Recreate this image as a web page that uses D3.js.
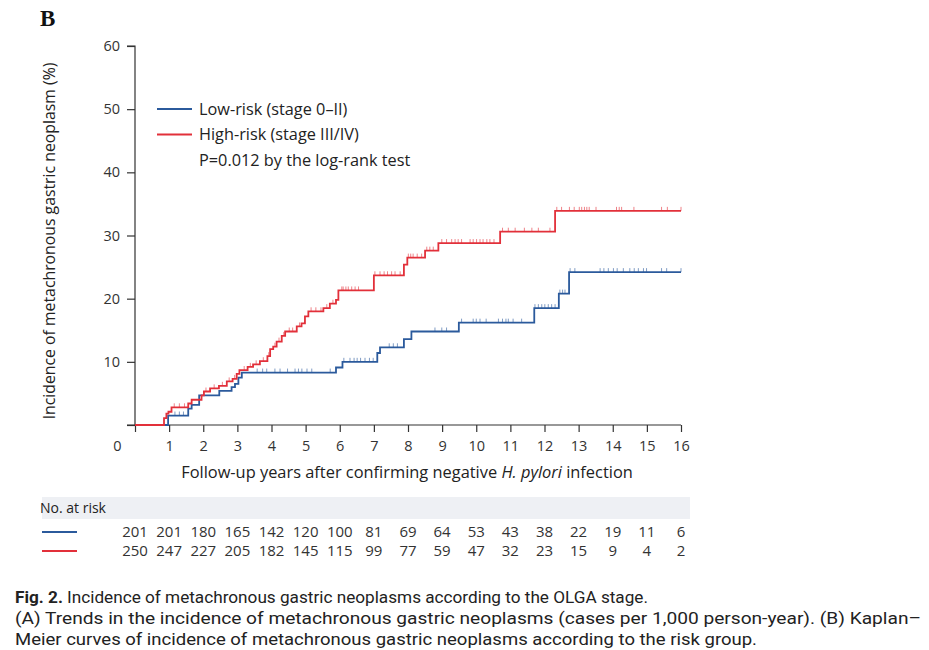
<!DOCTYPE html>
<html>
<head>
<meta charset="utf-8">
<script src="https://cdn.jsdelivr.net/npm/d3@7"></script>
<style>
  body { margin: 0; background: #fff; }
  svg { display: block; }
  .axis text { font-family: "Open Sans", Lato, sans-serif; font-size: 14.5px; fill: #333; }
  .axis path, .axis line { stroke: #333; stroke-width: 1.2; }
</style>
</head>
<body>
<div id="chart"></div>
<script>
// step points of the cumulative incidence curves (years, %)
var lowTimes  = [0, 0.97, 1.56, 1.66, 1.88, 2.47, 2.83, 2.93, 3.03, 3.13, 5.89, 6.08, 7.10, 7.18, 7.88, 8.10, 9.49, 11.70, 12.42, 12.72, 16];
var lowValues = [0, 1.5, 2.6, 3.2, 4.7, 5.4, 6.0, 6.5, 7.5, 8.3, 9.1, 10.0, 11.4, 12.3, 13.6, 14.8, 16.2, 18.5, 20.8, 24.2, 24.2];

var highTimes  = [0, 0.85, 0.92, 0.98, 1.07, 1.56, 1.66, 1.95, 2.02, 2.20, 2.46, 2.69, 2.86, 2.98, 3.06, 3.30, 3.46, 3.66, 3.88, 3.96, 4.05, 4.15, 4.30, 4.40, 4.74, 4.88, 4.98, 5.08, 5.52, 5.71, 5.89, 5.96, 7.00, 7.88, 7.98, 8.50, 8.89, 10.70, 12.31, 16];
var highValues = [0, 1.1, 1.8, 2.1, 2.8, 3.4, 4.0, 4.7, 5.3, 5.8, 6.2, 6.9, 7.3, 8.1, 8.7, 9.2, 9.6, 10.1, 10.9, 12.0, 12.4, 13.2, 14.1, 14.8, 15.6, 16.1, 17.2, 18.0, 18.5, 19.2, 19.8, 21.3, 23.7, 25.4, 26.5, 27.6, 28.8, 30.6, 33.9, 33.9];

// censored observations (years)
var lowCensor = [1.17, 1.30, 1.42, 3.58, 3.74, 3.86, 4.10, 4.25, 4.47, 4.69, 4.79, 4.89, 5.04, 5.18, 5.72,
  6.12, 6.30, 6.42, 6.51, 6.61, 6.74, 6.87, 6.98, 7.45, 7.57, 7.69, 8.79, 8.99, 9.13,
  9.57, 9.91, 10.00, 10.11, 10.29, 10.65, 10.77, 10.87, 10.94, 11.08, 11.33,
  11.72, 11.82, 11.92, 12.01, 12.11, 12.21, 12.31, 12.45, 12.53, 12.60,
  12.75, 12.89, 13.63, 13.74, 13.87, 14.02, 14.13, 14.31, 14.50, 14.63, 14.75, 14.90, 14.99, 15.43, 15.58, 16.0];
var highCensor = [1.15, 1.30, 1.45, 2.08, 2.32, 2.56, 2.76, 2.92, 3.20, 3.38, 3.55, 3.76, 3.92, 4.10, 4.22, 4.36, 4.52, 4.62, 4.82,
  5.16, 5.30, 5.45, 5.62, 5.80, 6.06, 6.10, 6.18, 6.25, 6.35, 6.45, 6.55, 7.03, 7.18, 7.30, 7.40, 7.52, 7.62, 7.77,
  8.01, 8.08, 8.15, 8.27, 8.40, 8.55, 8.64, 8.74, 8.99, 9.13, 9.28, 9.38, 9.47, 9.57, 9.82, 9.91, 10.01, 10.11, 10.20, 10.31, 10.40, 10.52,
  10.77, 10.94, 11.14, 11.41, 11.63, 11.82, 12.16, 12.36, 12.50, 12.73, 12.87, 13.02, 13.09, 13.17, 13.24, 13.31, 13.51,
  14.11, 14.19, 14.26, 14.62, 15.43, 15.60, 16.0];

var yearTicks = d3.range(0, 17);
var pctTicks = [0, 10, 20, 30, 40, 50, 60];
var lowAtRisk  = [201, 201, 180, 165, 142, 120, 100, 81, 69, 64, 53, 43, 38, 22, 19, 11, 6];
var highAtRisk = [250, 247, 227, 205, 182, 145, 115, 99, 77, 59, 47, 32, 23, 15, 9, 4, 2];

var lowColor = '#2b5a9c';
var highColor = '#e2303a';
var font = '"Open Sans", Lato, sans-serif';

var svg = d3.select('#chart').append('svg').attr('width', 929).attr('height', 650);

var x = d3.scaleLinear().domain([0, 16]).range([135, 681]);
var y = d3.scaleLinear().domain([0, 60]).range([425, 46]);

// panel letter
svg.append('text').attr('x', 40).attr('y', 26)
  .attr('font-family', '"Liberation Serif", "DejaVu Serif", serif')
  .attr('font-weight', 'bold').attr('font-size', 23).attr('fill', '#111').text('B');

// axes
svg.append('g').attr('class', 'axis').attr('transform', 'translate(135,0)')
  .call(d3.axisLeft(y).tickValues(pctTicks).tickSize(8).tickPadding(7)
    .tickFormat(function (d) { return d === 0 ? '' : d; }))
  .call(function (g) { g.select('.domain').attr('d', 'M-8,' + y(60) + 'H0V' + y(0)); });

var xAxis = svg.append('g').attr('class', 'axis').attr('transform', 'translate(0,425)')
  .call(d3.axisBottom(x).tickValues(yearTicks).tickSize(7).tickPadding(9))
  .call(function (g) { g.select('.domain').attr('d', 'M127,0H' + x(16)); });
// the 0 label sits left of the corner
xAxis.selectAll('.tick').filter(function (d) { return d === 0; })
  .select('text').attr('x', -18);

svg.append('text')
  .attr('transform', 'translate(55,' + 241 + ') rotate(-90)')
  .attr('text-anchor', 'middle').attr('font-family', font).attr('font-size', 15.8).attr('fill', '#222')
  .text('Incidence of metachronous gastric neoplasm (%)');

var xl = svg.append('text').attr('x', 407).attr('y', 478).attr('text-anchor', 'middle')
  .attr('font-family', font).attr('font-size', 16.4).attr('fill', '#222');
xl.append('tspan').text('Follow-up years after confirming negative ');
xl.append('tspan').attr('font-style', 'italic').text('H. pylori');
xl.append('tspan').text(' infection');

// curves
var step = d3.line()
  .x(function (d) { return x(d[0]); })
  .y(function (d) { return y(d[1]); })
  .curve(d3.curveStepAfter);

function valueAt(times, values, t) {
  var i = d3.bisectRight(times, t) - 1;
  return values[Math.max(0, i)];
}

function drawCurve(times, values, censor, color) {
  var pts = times.map(function (t, i) { return [t, values[i]]; });
  svg.append('path').datum(pts).attr('d', step)
    .attr('fill', 'none').attr('stroke', color).attr('stroke-width', 1.8);
  svg.append('g').selectAll('line').data(censor).enter().append('line')
    .attr('x1', function (d) { return x(d); })
    .attr('x2', function (d) { return x(d); })
    .attr('y1', function (d) { return y(valueAt(times, values, d)); })
    .attr('y2', function (d) { return y(valueAt(times, values, d)) - 4; })
    .attr('stroke', color).attr('stroke-opacity', 0.6).attr('stroke-width', 1);
}

drawCurve(lowTimes, lowValues, lowCensor, lowColor);
drawCurve(highTimes, highValues, highCensor, highColor);

// legend
var legend = [
  { label: 'Low-risk (stage 0\u2013II)', color: lowColor },
  { label: 'High-risk (stage III/IV)', color: highColor },
  { label: 'P=0.012 by the log-rank test', color: null }
];
var lg = svg.append('g').selectAll('g').data(legend).enter().append('g')
  .attr('transform', function (d, i) { return 'translate(157,' + (109 + i * 25.5) + ')'; });
lg.filter(function (d) { return d.color; }).append('line')
  .attr('x1', 0).attr('x2', 35).attr('stroke', function (d) { return d.color; }).attr('stroke-width', 2.2);
lg.append('text').attr('x', 42).attr('y', 5.5)
  .attr('font-family', font).attr('font-size', 16.3).attr('fill', '#222')
  .text(function (d) { return d.label; });

// number at risk table
svg.append('rect').attr('x', 42).attr('y', 497).attr('width', 648).attr('height', 22).attr('fill', '#eef0f4');
svg.append('text').attr('x', 40).attr('y', 513).attr('font-family', font).attr('font-size', 14)
  .attr('fill', '#222').text('No. at risk');

[[lowAtRisk, lowColor, 532], [highAtRisk, highColor, 551]].forEach(function (row) {
  svg.append('line').attr('x1', 42).attr('x2', 77).attr('y1', row[2]).attr('y2', row[2])
    .attr('stroke', row[1]).attr('stroke-width', 2.2);
  svg.append('g').selectAll('text').data(row[0]).enter().append('text')
    .attr('x', function (d, i) { return x(yearTicks[i]); })
    .attr('y', row[2] + 5)
    .attr('text-anchor', 'middle').attr('font-family', font).attr('font-size', 15).attr('fill', '#333')
    .text(function (d) { return d; });
});

// caption
var capFont = 'Roboto, "Open Sans", sans-serif';
var c1 = svg.append('text').attr('x', 15).attr('y', 603).attr('font-family', capFont).attr('font-size', 16)
  .attr('fill', '#222').attr('textLength', 633).attr('lengthAdjust', 'spacingAndGlyphs');
c1.append('tspan').attr('font-weight', 'bold').text('Fig. 2.');
c1.append('tspan').text(' Incidence of metachronous gastric neoplasms according to the OLGA stage.');
svg.append('text').attr('x', 15).attr('y', 624).attr('font-family', capFont).attr('font-size', 16)
  .attr('fill', '#222').attr('textLength', 906).attr('lengthAdjust', 'spacingAndGlyphs')
  .text('(A) Trends in the incidence of metachronous gastric neoplasms (cases per 1,000 person-year). (B) Kaplan\u2013');
svg.append('text').attr('x', 15).attr('y', 645).attr('font-family', capFont).attr('font-size', 16)
  .attr('fill', '#222').attr('textLength', 742).attr('lengthAdjust', 'spacingAndGlyphs')
  .text('Meier curves of incidence of metachronous gastric neoplasms according to the risk group.');
</script>
</body>
</html>
